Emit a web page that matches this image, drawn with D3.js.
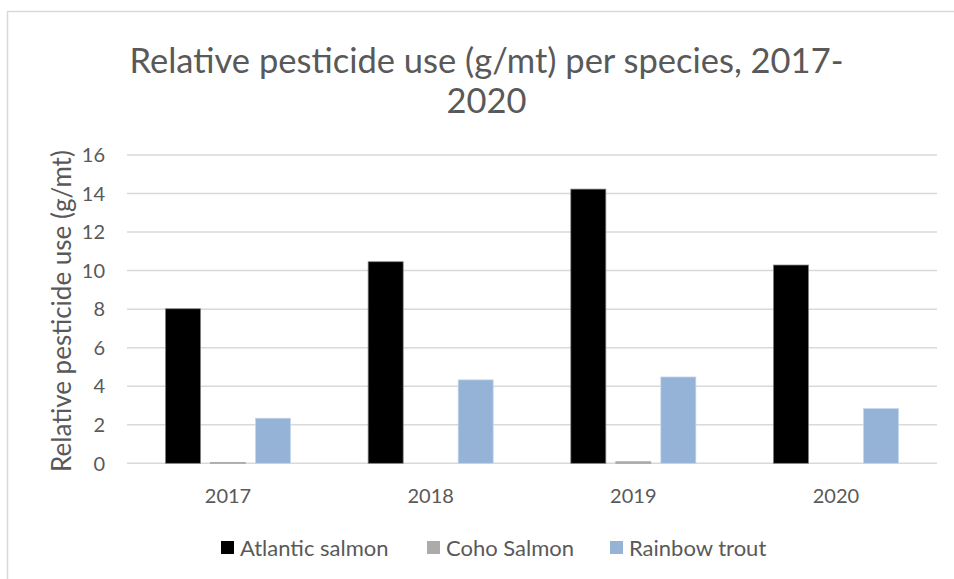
<!DOCTYPE html>
<html>
<head>
<meta charset="utf-8">
<script src="https://cdn.jsdelivr.net/npm/d3@7"></script>
<style>
  html, body { margin: 0; padding: 0; background: #fff; }
  svg { display: block; }
  text { font-family: Lato, "Open Sans", sans-serif; fill: #595959; }
</style>
</head>
<body>
<svg id="chart" width="954" height="579"></svg>
<script>
const years = ["2017", "2018", "2019", "2020"];
const seriesNames = ["Atlantic salmon", "Coho Salmon", "Rainbow trout"];
const atlanticSalmon = [8.02, 10.46, 14.23, 10.29];
const cohoSalmon = [0.04, 0, 0.08, 0];
const rainbowTrout = [2.34, 4.33, 4.48, 2.84];
const yTicks = [0, 2, 4, 6, 8, 10, 12, 14, 16];
const titleLines = ["Relative pesticide use (g/mt) per species, 2017-", "2020"];
const yAxisTitle = "Relative pesticide use (g/mt)";

const colors = ["#000000", "#ADAAAA", "#95B3D7"];
const strokes = ["#7f7f7f", "#a5a5a5", "#c6d6ea"];
const seriesValues = [atlanticSalmon, cohoSalmon, rainbowTrout];

const svg = d3.select("#chart");
const W = 954, H = 579;

// outer chart border
svg.append("rect").attr("x", 7.5).attr("y", 11.5).attr("width", W).attr("height", H)
  .attr("fill", "#fff").attr("stroke", "#d9d9d9").attr("stroke-width", 1.5);

const plot = { left: 127, right: 937, top: 155, bottom: 463.3 };

const x0 = d3.scaleBand().domain(years).range([plot.left, plot.right]).paddingInner(0.383).paddingOuter(0.19);
const x1 = d3.scaleBand().domain(seriesNames).range([0, x0.bandwidth()]).paddingInner(0.222);
const y = d3.scaleLinear().domain([0, 16]).range([plot.bottom, plot.top]);

// gridlines
svg.append("g").selectAll("line").data(yTicks).join("line")
  .attr("x1", plot.left).attr("x2", plot.right)
  .attr("y1", d => y(d)).attr("y2", d => y(d))
  .attr("stroke", "#d9d9d9").attr("stroke-width", 1.5);

// y tick labels
svg.append("g").selectAll("text").data(yTicks).join("text")
  .attr("x", 105).attr("y", d => y(d)).attr("dy", "0.36em")
  .attr("text-anchor", "end").attr("font-size", 20)
  .text(d => d);

// bars
const groups = svg.append("g").selectAll("g").data(years).join("g")
  .attr("transform", d => `translate(${x0(d)},0)`);
groups.selectAll("rect").data((yr, i) => seriesNames.map((s, k) => ({ s, k, v: seriesValues[k][i] })))
  .join("rect")
  .attr("x", d => x1(d.s)).attr("width", x1.bandwidth())
  .attr("y", d => y(d.v)).attr("height", d => y(0) - y(d.v))
  .attr("fill", d => colors[d.k])
  .attr("stroke", d => strokes[d.k]).attr("stroke-width", d => d.v > 0 ? 0.75 : 0);

// x labels
svg.append("g").selectAll("text").data(years).join("text")
  .attr("x", d => x0(d) + x0.bandwidth() / 2).attr("y", 503)
  .attr("text-anchor", "middle").attr("font-size", 20)
  .text(d => d);

// title
svg.append("g").selectAll("text").data(titleLines).join("text")
  .attr("x", 486.5).attr("y", (d, i) => 73 + i * 40)
  .attr("text-anchor", "middle").attr("font-size", 34.5)
  .text(d => d);

// y axis title
svg.append("text")
  .attr("transform", "translate(71,311) rotate(-90)")
  .attr("text-anchor", "middle").attr("font-size", 26)
  .text(yAxisTitle);

// legend
const legendX = [221, 427, 610];
const lg = svg.append("g").selectAll("g").data(seriesNames).join("g")
  .attr("transform", (d, i) => `translate(${legendX[i]},556)`);
lg.append("rect").attr("x", 0).attr("y", -15).attr("width", 13).attr("height", 13)
  .attr("fill", (d, i) => colors[i]);
lg.append("text").attr("x", 19).attr("y", 0).attr("font-size", 22)
  .text(d => d);
</script>
</body>
</html>
